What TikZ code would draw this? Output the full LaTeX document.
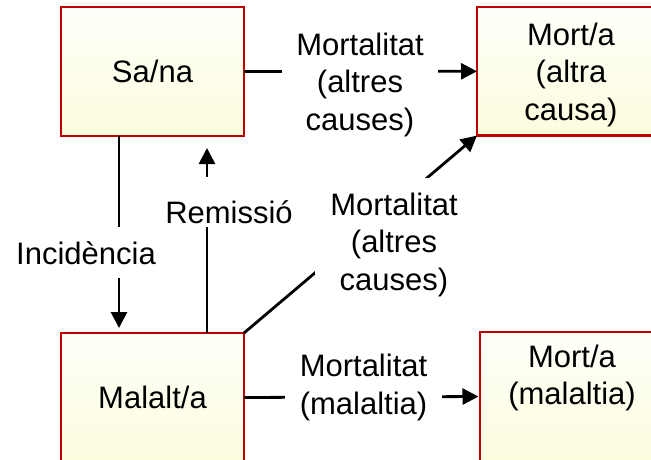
\documentclass[tikz,border=0pt]{standalone}
\usepackage{fontspec}
\setmainfont{Liberation Sans}
\usetikzlibrary{arrows.meta}
\definecolor{boxred}{RGB}{192,0,0}
\definecolor{boxtop}{RGB}{255,255,250}
\definecolor{boxbot}{RGB}{252,252,222}
\tikzset{
  statebox/.style={rectangle, draw=boxred, line width=2.8pt, top color=boxtop, bottom color=boxbot,
    inner sep=0pt, outer sep=0pt, align=center, font=\fontsize{31}{37.5}\selectfont},
  conn/.style={line width=2.8pt, draw=black},
  arr/.style={conn, -{Triangle[length=16pt,width=16pt]}},
  lab/.style={fill=white, align=center, font=\fontsize{31}{37.5}\selectfont, inner ysep=0pt},
}
\begin{document}
\begin{tikzpicture}[x=1pt,y=-1pt]
\useasboundingbox (0,0) rectangle (651,459);
\fill[white] (0,0) rectangle (651,459);
% boxes
\node[statebox, minimum width=183pt, minimum height=129pt] (sana) at (152.5,71.5) {Sa/na};
\node[statebox, minimum width=188pt, minimum height=128.5pt] (mortac) at (571,71.3) {};
\node[lab, fill=none, inner sep=0pt] (mortactxt) at (571,74.5) {Mort/a\\(altra\\causa)};
\node[statebox, minimum width=183pt, minimum height=129pt] (malalt) at (152.5,397.5) {Malalt/a};
\node[statebox, minimum width=185pt, minimum height=129pt] (mortm) at (572.5,396.5) {};
\node[lab, fill=none, inner sep=0pt] (mortmtxt) at (572,378) {Mort/a\\(malaltia)};
% connectors
\draw[arr] (sana.east) -- (mortac.west);
\draw[arr, shorten >=5pt] ([xshift=-33.5pt]sana.south) -- ([xshift=-33.5pt]malalt.north);
\draw[arr, shorten >=12pt] ([xshift=54.5pt]malalt.north) -- ([xshift=54.5pt]sana.south);
\draw[arr] (malalt.north east) -- (mortac.south west);
\draw[arr, shorten >=1.5pt] (malalt.east) -- (mortm.west);
% labels
\node[lab, inner xsep=14.5pt] (l1) at (360,84.5) {Mortalitat\\(altres\\causes)};
\node[lab, anchor=base, text height=37pt, text depth=14pt, inner xsep=3pt] (l2) at (86,264) {Incidència};
\node[lab, anchor=base, text height=46pt, text depth=4pt, inner xsep=3pt] (l3) at (229,223) {Remissió};
\node[lab, inner sep=15pt] (l4) at (394,244.5) {Mortalitat\\(altres\\causes)};
\node[lab, inner xsep=14.5pt] (l5) at (363.5,387.7) {Mortalitat\\(malaltia)};
\end{tikzpicture}
\end{document}
